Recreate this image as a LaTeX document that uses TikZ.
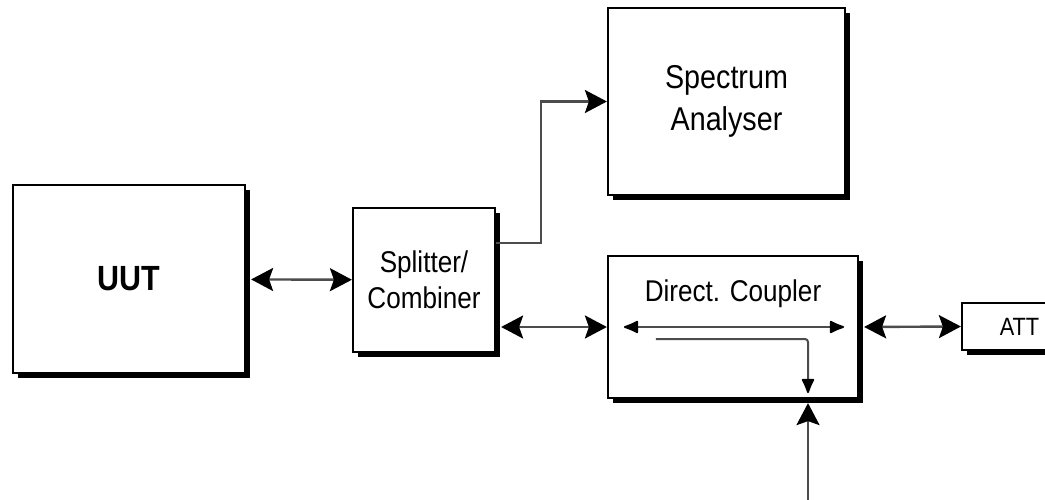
\documentclass[tikz,border=0pt]{standalone}
\usepackage{fontspec}
\setmainfont{Liberation Sans}[FakeStretch=0.87]
\usetikzlibrary{arrows.meta,shadows,calc}

\begin{document}
\begin{tikzpicture}[x=1pt,y=-1pt,
    blk/.style={draw, line width=2.2pt, fill=white, inner sep=0pt, align=center,
      drop shadow={shadow xshift=5pt, shadow yshift=-5pt, opacity=1, fill=black}},
    lnk/.style={line width=2.4pt, draw=black!70,
      >={Stealth[length=22pt,width=23pt,inset=4pt,color=black]}},
    inlnk/.style={line width=2pt, draw=black!70,
      >={Latex[length=17pt,width=14pt,round,color=black]}}]
    \clip (0,0) rectangle (1045,500);
    % blocks
    \node[blk, minimum width=232pt, minimum height=188pt, font=\fontsize{35}{40}\selectfont\bfseries] (uut) at (129,279) {UUT};
    \node[blk, minimum width=142pt, minimum height=144pt, font=\fontsize{30}{36}\selectfont] (split) at (424,280) {Splitter/\\Combiner};
    \node[blk, minimum width=237pt, minimum height=187pt, font=\fontsize{33}{42}\selectfont] (spec) at (726.5,101.5) {Spectrum\\Analyser};
    \node[blk, minimum width=250pt, minimum height=142pt] (coup) at (733,327) {};
    \node[font=\fontsize{30}{36}\selectfont] (couptxt) at (733,294) {Direct. Coupler};
    \node[blk, minimum width=115pt, minimum height=47pt, font=\fontsize{25}{30}\selectfont] (att) at (1019.5,326.5) {ATT};
    % links
    \draw[lnk, <->, shorten <=5pt] (uut) -- (split);
    \draw[lnk, <->, shorten <=5pt] (split.east |- coup.west) -- (coup.west);
    \draw[lnk, <->, shorten <=5pt] (coup.east) -- (att.west);
    \draw[lnk, ->] ($(split.east)+(0,-37)$) -- ++(45,0) |- (spec.west);
    \coordinate (src) at (808,500);
    \draw[lnk, ->, shorten >=4pt] (src) -- (src |- coup.south);
    % inside the coupler
    \coordinate (cl) at ($(coup.west)+(17,0)$);
    \coordinate (cr) at ($(coup.east)+(-15,0)$);
    \draw[inlnk, <->] (cl) -- (cr);
    \draw[inlnk, ->, rounded corners=3pt] ($(coup.west)+(49,12)$) -| ($(coup.south)+(75,-6)$);
\end{tikzpicture}
\end{document}
